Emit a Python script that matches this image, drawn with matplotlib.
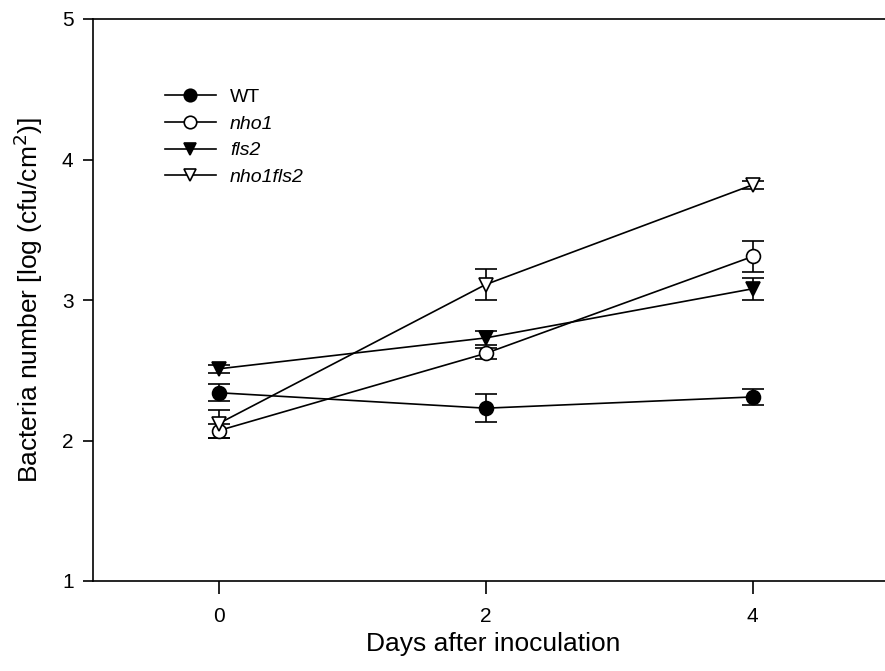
import numpy as np
import matplotlib
matplotlib.use("Agg")
import matplotlib.pyplot as plt
from matplotlib.lines import Line2D

plt.rcParams['font.family'] = ['Liberation Sans', 'DejaVu Sans']

days = [0, 2, 4]
labels = ["WT", "nho1", "fls2", "nho1fls2"]
wt = [2.34, 2.23, 2.31]
wt_err = [0.06, 0.10, 0.06]
nho1 = [2.07, 2.62, 3.31]
nho1_err = [0.05, 0.04, 0.11]
fls2 = [2.51, 2.73, 3.08]
fls2_err = [0.03, 0.05, 0.08]
nho1fls2 = [2.12, 3.11, 3.82]
nho1fls2_err = [0.10, 0.11, 0.03]

series = [wt, nho1, fls2, nho1fls2]
errs = [wt_err, nho1_err, fls2_err, nho1fls2_err]
markers = ['o', 'o', 'v', 'v']
faces = ['black', 'white', 'black', 'white']

fig = plt.figure(figsize=(8.85, 6.71), dpi=100)
# axes run slightly past the right edge of the figure, as in the cropped original
ax = fig.add_axes([93/885, 90/671, 800/885, 562/671])

handles = []
for i in range(len(series)):
    ax.errorbar(days, series[i], yerr=errs[i], color='black', lw=1.2,
                marker=markers[i], mfc=faces[i], mec='black', ms=10, mew=1.2,
                capsize=8, capthick=1.2, elinewidth=1.2)
    # legend entry: line + marker only, no error bar
    handles.append(Line2D([], [], color='black', lw=1.2, marker=markers[i],
                          mfc=faces[i], mec='black', ms=9, mew=1.2))

ax.set_xlim(-0.94, 5.05)
ax.set_ylim(1, 5)
ax.set_xticks(days)
ax.set_yticks([1, 2, 3, 4, 5])
ax.spines['right'].set_visible(False)
for s in ['top', 'left', 'bottom']:
    ax.spines[s].set_linewidth(1.2)
ax.tick_params(axis='y', direction='out', length=7, width=1.2, labelsize=15, pad=7)
ax.tick_params(axis='x', direction='out', length=9, width=1.2, labelsize=15, pad=10)
ax.set_xlabel("Days after inoculation", fontsize=19, labelpad=4)
ax.set_ylabel("Bacteria number [log (cfu/cm$^2$)]", fontsize=19, labelpad=12)

leg = ax.legend(handles, labels, loc='upper left', bbox_to_anchor=(0.09, 0.876),
                frameon=False, fontsize=14, handlelength=2.6, handletextpad=0.75,
                labelspacing=0.46, borderpad=0, borderaxespad=0)
for t in leg.get_texts()[1:]:
    t.set_fontstyle('italic')

fig.savefig("out.png", dpi=100)
